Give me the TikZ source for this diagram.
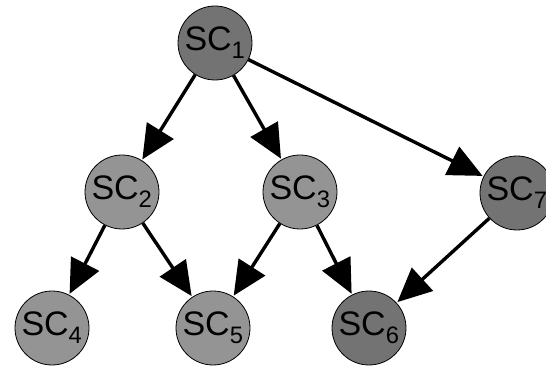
\documentclass[tikz,border=0pt]{standalone}
\usepackage{fontspec}
\setmainfont{Liberation Sans}
\usetikzlibrary{arrows.meta,positioning}

\begin{document}
\begin{tikzpicture}[
            sc/.style={draw,thick,circle,minimum size=74pt,inner sep=0pt,fill=black!42},
            scdark/.style={sc,fill=black!55},
            every node/.style={align=center, font=\fontsize{34}{36}\selectfont},
            link/.style={-{Triangle[length=34pt,width=31pt]},line width=3.4pt,shorten >=1pt},
            on grid
  ]

  \useasboundingbox (0,0) rectangle (546pt,367pt);

  \node[scdark] (sc1) at (215pt,324pt) {SC\textsubscript{1}};
  \node[sc] (sc2) [below left=149pt and 93pt of sc1] {SC\textsubscript{2}};
  \node[sc] (sc3) [below right=149pt and 85pt of sc1] {SC\textsubscript{3}};
  \node[scdark] (sc7) [below right=150pt and 302pt of sc1] {SC\textsubscript{7}};
  \node[sc] (sc4) [below left=136pt and 70pt of sc2] {SC\textsubscript{4}};
  \node[sc] (sc5) [below right=136pt and 91pt of sc2] {SC\textsubscript{5}};
  \node[scdark] (sc6) [below right=136pt and 69pt of sc3] {SC\textsubscript{6}};

  \draw[link] (sc1) -- (sc2);
  \draw[link] (sc1) -- (sc3);
  \draw[link] (sc1) -- (sc7);

  \draw[link] (sc2) -- (sc4);
  \draw[link] (sc2) -- (sc5);
  \draw[link] (sc3) -- (sc5);
  \draw[link] (sc3) -- (sc6);
  \draw[link] (sc7) -- (sc6);

\end{tikzpicture}
\end{document}
